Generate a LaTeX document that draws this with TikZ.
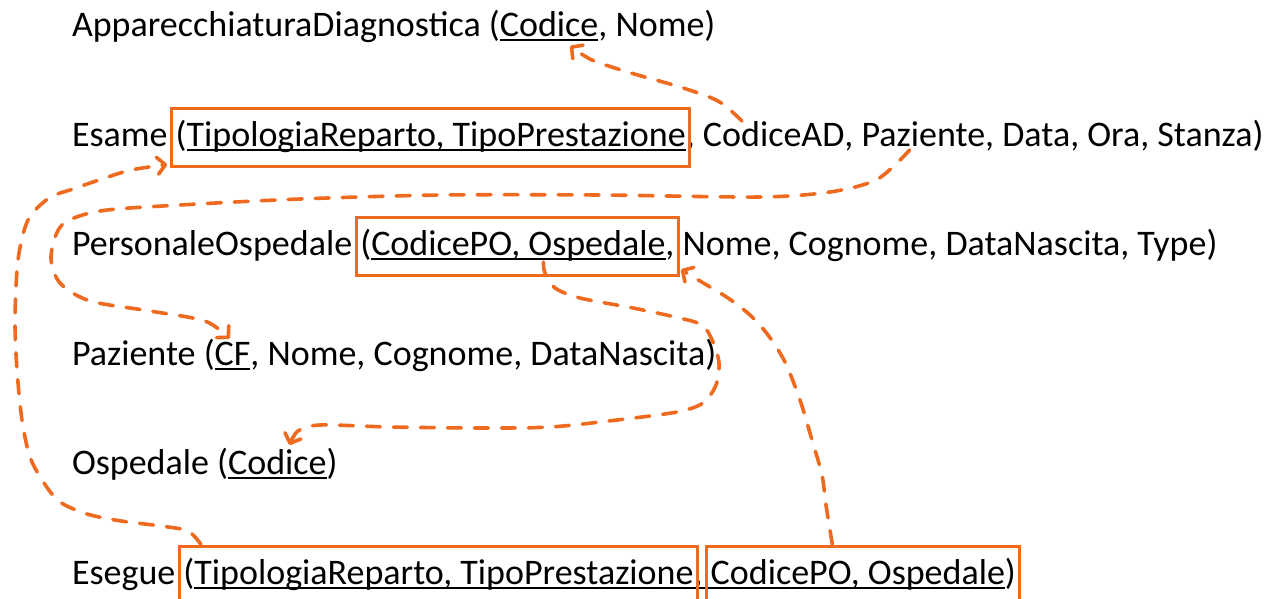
\documentclass[tikz,border=0pt]{standalone}
\usepackage{fontspec}
\setmainfont{Carlito}
\usetikzlibrary{
	arrows.meta,
	positioning,
	fit,
}
\definecolor{fkorange}{RGB}{238,106,30}
% underline at a fixed depth, through the descenders
\newcommand{\keyul}[1]{\setbox0=\hbox{#1}\rlap{\rule[-5pt]{\wd0}{1.6pt}}\box0}
\tikzset{relation/.style={
		% no padding, so that the parts of a line join up
		inner sep=0pt,outer sep=0pt,
		anchor=base west,
		font=\fontsize{36}{43}\selectfont,
}}
\tikzset{keypart/.style={
		relation,
		% make sure every key box has the same height
		text height=27pt,text depth=9pt,
}}
\tikzset{keybox/.style={
		% The shape:
		rectangle,
		% The border:
		draw=fkorange,line width=3pt,
		% The size:
		inner xsep=4pt,inner ysep=11pt,
}}
\tikzset{fkline/.style={
		% hand drawn look
		draw=fkorange,line width=3.6pt,line cap=round,
		dash pattern=on 14pt off 13pt,
		->,
}}

\begin{document}
\begin{tikzpicture}[x=1pt,y=-1pt,
	>={Straight Barb[round,length=8pt,width=17pt]}]
	\useasboundingbox (0,0) rectangle (1275,598);
	% ApparecchiaturaDiagnostica
	\node[relation] (apN) at (72,36) {ApparecchiaturaDiagnostica (};
	\node[relation,base right=0pt of apN] (apCod) {\keyul{Codice}};
	\node[relation,base right=0pt of apCod] (apR) {, Nome)};
	% Esame
	\node[relation] (esameN) at (72,146) {Esame\ \null};
	\node[keypart,base right=0pt of esameN] (esameK) {(\keyul{TipologiaReparto, TipoPrestazione}};
	\node[relation,base right=0pt of esameK] (esameC) {,\ \null};
	\node[relation,base right=0pt of esameC] (esameAD) {CodiceAD};
	\node[relation,base right=0pt of esameAD] (esameC2) {,\ \null};
	\node[relation,base right=0pt of esameC2] (esamePaz) {Paziente};
	\node[relation,base right=0pt of esamePaz] (esameR) {, Data, Ora, Stanza)};
	\node[keybox,fit=(esameK)] (esameBox) {};
	% PersonaleOspedale
	\node[relation] (poN) at (72,255) {PersonaleOspedale\ \null};
	\node[keypart,base right=0pt of poN] (poK) {(\keyul{CodicePO, Ospedale},};
	\node[relation,base right=0pt of poK] (poR) {\null\ Nome, Cognome, DataNascita, Type)};
	\node[keybox,fit=(poK)] (poBox) {};
	% Paziente
	\node[relation] (pazN) at (72,365) {Paziente (};
	\node[relation,base right=0pt of pazN] (pazCF) {\keyul{CF}};
	\node[relation,base right=0pt of pazCF] (pazR) {, Nome, Cognome, DataNascita)};
	% Ospedale
	\node[relation] (ospN) at (72,474) {Ospedale (};
	\node[relation,base right=0pt of ospN] (ospCod) {\keyul{Codice}};
	\node[relation,base right=0pt of ospCod] (ospR) {)};
	% Esegue
	\node[relation] (esgN) at (72,584) {Esegue\ \null};
	\node[keypart,base right=0pt of esgN] (esgK1) {(\keyul{TipologiaReparto, TipoPrestazione}};
	\node[relation,base right=0pt of esgK1] (esgC) {\keyul{,\ \null}};
	\node[keypart,base right=0pt of esgC] (esgK2) {\keyul{CodicePO, Ospedale})};
	\node[keybox,fit=(esgK1)] (esgBox1) {};
	\node[keybox,fit=(esgK2)] (esgBox2) {};

	% foreign keys
	\draw[fkline] plot[smooth] coordinates {([xshift=39pt]esameAD.north west) (718,101) (680,87) (631,73) (592,60) ([xshift=21pt,yshift=-5pt]apCod.south)};
	\draw[fkline] plot[smooth] coordinates {([xshift=48pt,yshift=-4pt]esamePaz.base west) (897,163) (874,181) (830,192) (760,197) (600,195) (440,195) (300,199) (180,205) (100,211) (62,225) (51,257) (60,283) (90,301) (150,311) (205,321) ([xshift=-3pt,yshift=3pt]pazCF.north)};
	\draw[fkline] plot[smooth] coordinates {([xshift=23pt]esgBox1.north west) (188,531) (161,526) (121,521) (87,514) (60,502) (44,483) (30,457) (22,420) (17,370) (15,320) (18,260) (28,220) (49,198) (73,189) (102,179) (131,170) ([xshift=-3pt,yshift=3pt]esameBox.south west)};
	\draw[fkline] plot[smooth] coordinates {([xshift=183pt,yshift=-7pt]poK.base west) (545,273) (555,288) (580,298) (633,308) (675,317) (702,325) (713,342) (719,363) (716,385) (703,403) (677,412) (617,420) (550,427) (480,428) (390,427) (320,425) (298,431) ([xshift=12pt,yshift=4pt]ospCod.north)};
	\draw[fkline] plot[smooth] coordinates {([xshift=-31pt]esgBox2.north) (826,505) (822,475) (812,440) (800,400) (785,362) (768,335) (750,315) (728,298) (705,284) (690,275) ([xshift=1pt,yshift=7pt]poBox.south east)};
\end{tikzpicture}
\end{document}
